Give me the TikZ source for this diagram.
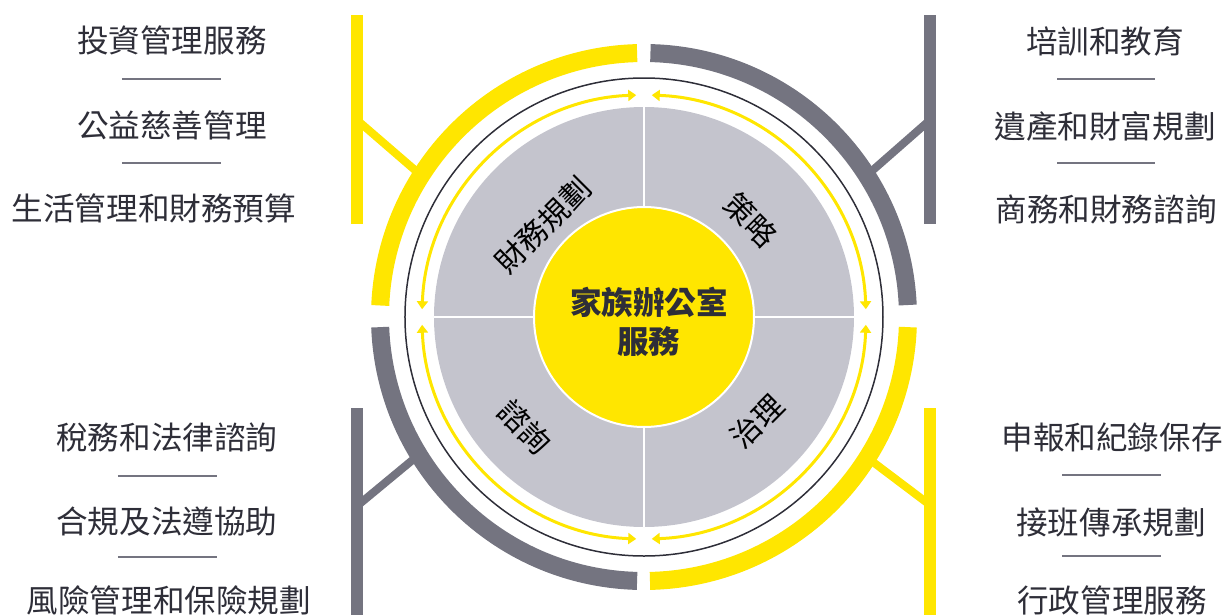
\documentclass[tikz,border=0pt]{standalone}
\usepackage{fontspec}
\setmainfont{Noto Sans CJK TC}
\usetikzlibrary{arrows.meta}

\definecolor{eyyellow}{RGB}{255,230,0}
\definecolor{eygrey}{RGB}{116,116,128}
\definecolor{eylight}{RGB}{196,196,205}
\definecolor{eydark}{RGB}{46,46,56}

\tikzset{
  item/.style={font=\fontsize{31.6}{36}\selectfont, text=eydark, inner sep=0pt},
  sector/.style={font=\fontsize{30}{34}\selectfont, text=black, inner sep=0pt},
  sepline/.style={eygrey, line width=2pt},
  band/.style={line width=18pt},
  branch/.style={line width=8pt},
  flow/.style={eyyellow, line width=3pt,
    {Triangle[length=8pt,width=11pt]}-{Triangle[length=8pt,width=11pt]}},
}

\begin{document}
\begin{tikzpicture}[x=1pt,y=1pt]
  \useasboundingbox (-644,-297) rectangle (580,317);

  % disc and core
  \fill[eylight] (0,0) circle(210);
  \draw[white,line width=2pt] (-210,0) -- (210,0) (0,-210) -- (0,210);
  \draw[white,line width=2pt,fill=eyyellow] (0,0) circle(110);
  \node[inner sep=0pt, align=center, text=eydark,
    font=\fontsize{31.5}{39}\selectfont\bfseries] (core) at (5,-5) {家族辦公室\\服務};

  \node[sector, rotate=45]  (plan)     at (-101,92)   {財務規劃};
  \node[sector, rotate=-45] (strategy) at (107,97)    {策略};
  \node[sector, rotate=-45] (advice)   at (-119,-110) {諮詢};
  \node[sector, rotate=45]  (govern)   at (113,-104)  {治理};

  % ring and flows
  \draw[eydark, line width=1.5pt] (0,0) circle(239);
  \foreach \a in {0,90,180,270}
    \draw[flow] (\a+2:222) arc(\a+2:\a+88:222);

  % outer bands
  \draw[band,eyyellow] (91.5:264) arc(91.5:177.5:264);
  \draw[band,eygrey]   (2.6:264) arc(2.6:88.6:264);
  \draw[band,eyyellow] (-2.2:264) arc(-2.2:-88.7:264);
  \draw[band,eygrey]   (182.2:264) arc(182.2:268.5:264);

  % brackets
  \fill[eyyellow] (-293,93) rectangle (-281,302);
  \draw[branch,eyyellow] (-287,197) -- (-221,140);
  \fill[eygrey] (280,93) rectangle (292,302);
  \draw[branch,eygrey] (286,197) -- (221,140);
  \fill[eygrey] (-293,-300) rectangle (-281,-91);
  \draw[branch,eygrey] (-287,-189) -- (-223,-136);
  \fill[eyyellow] (280,-300) rectangle (292,-91);
  \draw[branch,eyyellow] (286,-188) -- (221,-139);

  % top left
  \node[item] (invest)  at (-472,277) {投資管理服務};
  \node[item] (charity) at (-472,192) {公益慈善管理};
  \node[item] (budget)  at (-490,109) {生活管理和財務預算};
  \draw[sepline] (-522,238) -- (-423,238) (-522,154) -- (-423,154);

  % top right
  \node[item] (training) at (461,276) {培訓和教育};
  \node[item] (estate)   at (461,191) {遺產和財富規劃};
  \node[item] (business) at (462,108) {商務和財務諮詢};
  \draw[sepline] (413,238) -- (511,238) (413,154) -- (511,154);

  % bottom left
  \node[item] (tax)   at (-477,-120) {稅務和法律諮詢};
  \node[item] (legal) at (-477,-205) {合規及法遵協助};
  \node[item] (risk)  at (-475,-283) {風險管理和保險規劃};
  \draw[sepline] (-526,-159) -- (-427,-159) (-526,-240) -- (-427,-240);

  % bottom right
  \node[item] (record) at (468,-120) {申報和紀錄保存};
  \node[item] (succession) at (467,-205) {接班傳承規劃};
  \node[item] (admin)  at (468,-283) {行政管理服務};
  \draw[sepline] (418,-158) -- (517,-158) (418,-239) -- (517,-239);
\end{tikzpicture}
\end{document}
